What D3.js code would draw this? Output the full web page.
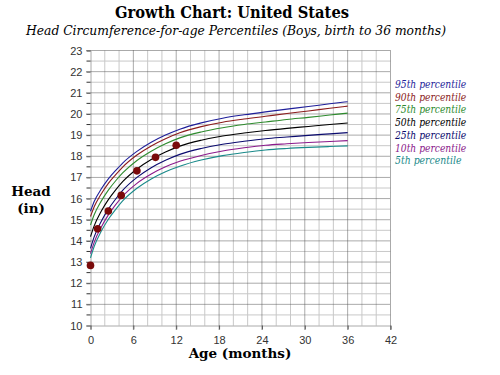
<!DOCTYPE html>
<html>
<head>
<meta charset="utf-8">
<script src="https://cdn.jsdelivr.net/npm/d3@7"></script>
<style>
html,body{margin:0;padding:0;background:#fff;}
svg{display:block;}
</style>
</head>
<body>
<svg id="chart" width="500" height="375"></svg>
<script>
// ---- data ----
const ages = [0, 0.5, 1.5, 2.5, 3.5, 4.5, 6.5, 8.5, 10.5, 12.5, 15.5, 18.5, 21.5, 24.5, 27.5, 30.5, 33.5, 36];
const p95 = [15.4, 15.85, 16.45, 16.93, 17.32, 17.68, 18.23, 18.66, 19.0, 19.28, 19.58, 19.8, 19.96, 20.1, 20.23, 20.35, 20.48, 20.58];
const p90 = [15.15, 15.6, 16.22, 16.72, 17.12, 17.49, 18.06, 18.49, 18.83, 19.11, 19.4, 19.61, 19.76, 19.89, 20.02, 20.14, 20.27, 20.37];
const p75 = [14.75, 15.22, 15.88, 16.4, 16.83, 17.21, 17.8, 18.24, 18.59, 18.87, 19.15, 19.35, 19.5, 19.62, 19.74, 19.84, 19.95, 20.04];
const p50 = [14.2, 14.7, 15.4, 15.95, 16.4, 16.8, 17.4, 17.85, 18.2, 18.48, 18.76, 18.96, 19.1, 19.22, 19.32, 19.41, 19.5, 19.57];
const p25 = [13.65, 14.18, 14.92, 15.5, 15.97, 16.39, 17.0, 17.46, 17.81, 18.09, 18.37, 18.57, 18.71, 18.83, 18.91, 18.99, 19.06, 19.12];
const p10 = [13.4, 13.92, 14.65, 15.23, 15.7, 16.11, 16.72, 17.16, 17.5, 17.76, 18.04, 18.25, 18.4, 18.52, 18.59, 18.65, 18.7, 18.74];
const p5  = [13.2, 13.72, 14.45, 15.02, 15.48, 15.89, 16.49, 16.93, 17.27, 17.53, 17.82, 18.03, 18.18, 18.3, 18.37, 18.42, 18.46, 18.49];
const seriesNames = ["95th percentile", "90th percentile", "75th percentile", "50th percentile", "25th percentile", "10th percentile", "5th percentile"];
const seriesValues = [p95, p90, p75, p50, p25, p10, p5];
const seriesColors = ["#1f1f9a", "#8b1c1c", "#2e8b2e", "#000000", "#0a0a6e", "#8b1a8b", "#1a8a8a"];
const childAges = [0, 1, 2.5, 4.3, 6.5, 9.1, 12];
const childHC = [12.84, 14.57, 15.41, 16.15, 17.31, 17.95, 18.52];
const xTicks = [0, 6, 12, 18, 24, 30, 36, 42];
const yTicks = [10, 11, 12, 13, 14, 15, 16, 17, 18, 19, 20, 21, 22, 23];

// ---- layout ----
const svg = d3.select("#chart");
const x = d3.scaleLinear().domain([0, 42]).range([90.5, 390.5]);
const y = d3.scaleLinear().domain([10, 23]).range([325.5, 50.5]);

// minor grid
const g = svg.append("g");
g.selectAll(".vminor").data(d3.range(0, 43, 2).filter(v => v % 6 !== 0)).enter().append("line")
  .attr("x1", d => x(d)).attr("x2", d => x(d)).attr("y1", y(23)).attr("y2", y(10))
  .attr("stroke", "#c8c8c8").attr("stroke-width", 1);
g.selectAll(".hminor").data(d3.range(10.5, 23, 1)).enter().append("line")
  .attr("x1", x(0)).attr("x2", x(42)).attr("y1", d => y(d)).attr("y2", d => y(d))
  .attr("stroke", "#c8c8c8").attr("stroke-width", 1);
// major grid (dotted dark)
g.selectAll(".vmajor").data(xTicks.slice(1)).enter().append("line")
  .attr("x1", d => x(d)).attr("x2", d => x(d)).attr("y1", y(23)).attr("y2", y(10) + 4)
  .attr("stroke", "#555").attr("stroke-width", 1).attr("stroke-dasharray", "1,1");
g.selectAll(".hmajor").data(yTicks.slice(1)).enter().append("line")
  .attr("x1", x(0) - 4).attr("x2", x(42)).attr("y1", d => y(d)).attr("y2", d => y(d))
  .attr("stroke", "#555").attr("stroke-width", 1).attr("stroke-dasharray", "1,1");

// axes
const xAxis = d3.axisBottom(x).tickValues(xTicks).tickSize(4).tickPadding(7);
const yAxis = d3.axisLeft(y).tickValues(yTicks).tickSize(4).tickPadding(4);
const ax = svg.append("g").attr("transform", `translate(0,${y(10)})`).call(xAxis);
const ay = svg.append("g").attr("transform", `translate(${x(0)},0)`).call(yAxis);
[ax, ay].forEach(a => {
  a.select(".domain").attr("stroke", "#555").attr("stroke-dasharray", "1,1");
  a.selectAll(".tick line").attr("stroke", "#555");
  a.selectAll("text").attr("font-family", "Liberation Sans, Arial, sans-serif").attr("font-size", 11).attr("fill", "#333");
});
// minor y ticks
svg.append("g").selectAll("line").data(d3.range(10.5, 23, 1)).enter().append("line")
  .attr("x1", x(0) - 4).attr("x2", x(0)).attr("y1", d => y(d)).attr("y2", d => y(d))
  .attr("stroke", "#333");

// percentile lines
const line = d3.line().x(d => x(d[0])).y(d => y(d[1])).curve(d3.curveMonotoneX);
seriesValues.forEach((vals, i) => {
  svg.append("path").datum(ages.map((a, j) => [a, vals[j]]))
    .attr("d", line).attr("fill", "none").attr("stroke", seriesColors[i]).attr("stroke-width", 1.1);
});

// child points
svg.append("g").selectAll("circle").data(childAges.map((a, i) => [a, childHC[i]])).enter().append("circle")
  .attr("cx", d => x(d[0])).attr("cy", d => y(d[1])).attr("r", 3.8).attr("fill", "#7a0a0a");

// legend
const leg = svg.append("g");
seriesNames.forEach((n, i) => {
  leg.append("text").attr("x", 395).attr("y", 88 + i * 12.7).text(n)
    .attr("font-family", "DejaVu Serif, serif").attr("font-style", "italic").attr("font-size", 10.5)
    .attr("textLength", n.length * 4.75).attr("lengthAdjust", "spacingAndGlyphs")
    .attr("fill", seriesColors[i]);
});

// titles
svg.append("text").attr("x", 232).attr("y", 18).attr("text-anchor", "middle")
  .attr("font-family", "DejaVu Serif, serif").attr("font-weight", "bold").attr("font-size", 16.5)
  .attr("textLength", 234).attr("lengthAdjust", "spacingAndGlyphs")
  .text("Growth Chart: United States");
svg.append("text").attr("x", 236).attr("y", 35).attr("text-anchor", "middle")
  .attr("font-family", "DejaVu Serif, serif").attr("font-style", "italic").attr("font-size", 12.8)
  .attr("textLength", 420).attr("lengthAdjust", "spacingAndGlyphs")
  .text("Head Circumference-for-age Percentiles (Boys, birth to 36 months)");
svg.append("text").attr("x", 240).attr("y", 358).attr("text-anchor", "middle")
  .attr("font-family", "DejaVu Serif, serif").attr("font-weight", "bold").attr("font-size", 13.5)
  .text("Age (months)");
const yl = svg.append("text").attr("text-anchor", "middle")
  .attr("font-family", "DejaVu Serif, serif").attr("font-weight", "bold").attr("font-size", 13.5);
yl.append("tspan").attr("x", 31).attr("y", 196).text("Head");
yl.append("tspan").attr("x", 31).attr("y", 213).text("(in)");
</script>
</body>
</html>
